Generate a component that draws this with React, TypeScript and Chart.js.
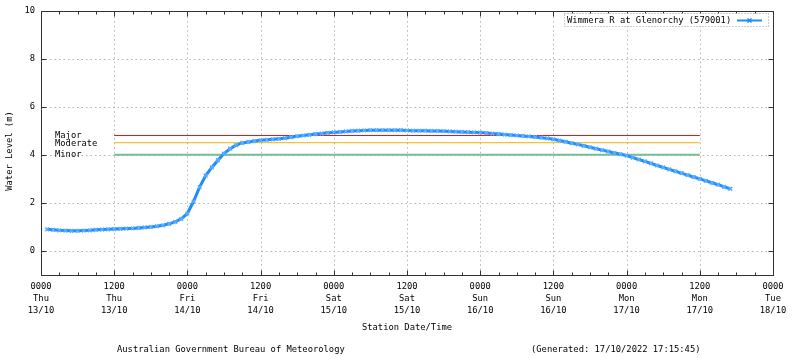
import React, { useEffect, useRef } from "react";
import { Chart, registerables } from "chart.js";

Chart.register(...registerables);

// Hours since 0000 Thu 13/10/2022
const hours = [
  1, 2, 3, 4, 5, 6, 7, 8, 9, 10, 11, 12, 13, 14, 15, 16, 17, 18, 19, 20,
  21, 22, 23, 24, 25, 26, 27, 28, 29, 30, 31, 32, 33, 34, 35, 36, 37, 38, 39, 40,
  41, 42, 43, 44, 45, 46, 47, 48, 49, 50, 51, 52, 53, 54, 55, 56, 57, 58, 59, 60,
  61, 62, 63, 64, 65, 66, 67, 68, 69, 70, 71, 72, 73, 74, 75, 76, 77, 78, 79, 80,
  81, 82, 83, 84, 85, 86, 87, 88, 89, 90, 91, 92, 93, 94, 95, 96, 97, 98, 99, 100,
  101, 102, 103, 104, 105, 106, 107, 108, 109, 110, 111, 112, 113,
];

// Water level (m)
const waterLevel = [
  0.89, 0.87, 0.85, 0.84, 0.83, 0.83, 0.84, 0.85, 0.87, 0.88, 0.89, 0.90, 0.91, 0.92, 0.93, 0.95, 0.97, 0.99, 1.02, 1.06,
  1.12, 1.20, 1.33, 1.55, 2.05, 2.65, 3.13, 3.47, 3.77, 4.05, 4.25, 4.40, 4.49, 4.53, 4.57, 4.60, 4.62, 4.64, 4.66, 4.69,
  4.73, 4.77, 4.80, 4.83, 4.86, 4.88, 4.91, 4.93, 4.95, 4.97, 4.99, 5.00, 5.01, 5.02, 5.02, 5.02, 5.02, 5.02, 5.02, 5.01,
  5.00, 5.00, 5.00, 4.99, 4.99, 4.98, 4.97, 4.96, 4.95, 4.94, 4.93, 4.92, 4.90, 4.88, 4.86, 4.84, 4.82, 4.80, 4.78, 4.76,
  4.74, 4.71, 4.68, 4.64, 4.59, 4.54, 4.48, 4.43, 4.37, 4.31, 4.25, 4.19, 4.13, 4.07, 4.02, 3.96, 3.88, 3.80, 3.72, 3.64,
  3.55, 3.47, 3.39, 3.31, 3.23, 3.15, 3.07, 2.99, 2.91, 2.83, 2.75, 2.66, 2.58,
];

const xTickHours = [0, 12, 24, 36, 48, 60, 72, 84, 96, 108, 120];
const xTickTimes = ["0000", "1200", "0000", "1200", "0000", "1200", "0000", "1200", "0000", "1200", "0000"];
const xTickDays = ["Thu", "Thu", "Fri", "Fri", "Sat", "Sat", "Sun", "Sun", "Mon", "Mon", "Tue"];
const xTickDates = ["13/10", "13/10", "14/10", "14/10", "15/10", "15/10", "16/10", "16/10", "17/10", "17/10", "18/10"];
const xMinorStep = 3;
const yTicks = [0, 2, 4, 6, 8, 10];

const floodNames = ["Major", "Moderate", "Minor"];
const floodLevels = [4.8, 4.5, 4.0];
const floodColors = ["#e01818", "#f2b400", "#74c096"];
const floodWidths = [1, 1, 2];
const floodStartHour = 12;
const floodEndHour = 108;

const seriesName = "Wimmera R at Glenorchy (579001)";
const seriesColor = "#1e8cff";
const footerLeft = "Australian Government Bureau of Meteorology";
const footerRight = "(Generated: 17/10/2022 17:15:45)";
const xTitle = "Station Date/Time";
const yTitle = "Water Level (m)";

const FONT = '8.8px "DejaVu Sans Mono", monospace';

function drawCross(ctx: CanvasRenderingContext2D, cx: number, cy: number, r: number) {
  ctx.beginPath();
  ctx.moveTo(cx - r, cy - r);
  ctx.lineTo(cx + r, cy + r);
  ctx.moveTo(cx - r, cy + r);
  ctx.lineTo(cx + r, cy - r);
  ctx.stroke();
}

const decorPlugin = {
  id: "decor",
  beforeDatasetsDraw(chart: any) {
    const { ctx, chartArea: a, scales } = chart;
    const x = scales.x;
    const y = scales.y;
    ctx.save();
    ctx.strokeStyle = "#b4b4b4";
    ctx.lineWidth = 1;
    ctx.setLineDash([1.5, 3]);
    for (const h of xTickHours) {
      if (h <= 0 || h >= 120) continue;
      const px = Math.round(x.getPixelForValue(h)) + 0.5;
      ctx.beginPath();
      ctx.moveTo(px, a.bottom);
      ctx.lineTo(px, a.top);
      ctx.stroke();
    }
    for (const v of yTicks) {
      if (v >= 10) continue;
      const py = Math.round(y.getPixelForValue(v)) + 0.5;
      ctx.beginPath();
      ctx.moveTo(a.left, py);
      ctx.lineTo(a.right, py);
      ctx.stroke();
    }
    ctx.setLineDash([]);

    // flood labels
    ctx.fillStyle = "#000";
    ctx.font = FONT;
    ctx.textAlign = "left";
    ctx.textBaseline = "middle";
    floodNames.forEach((n, i) => {
      const py = y.getPixelForValue(floodLevels[i]);
      const off = i === 1 ? 1.5 : 0;
      ctx.fillText(n, 55, py + off);
    });
    ctx.restore();
  },
  afterDatasetsDraw(chart: any) {
    const { ctx, chartArea: a, scales } = chart;
    const x = scales.x;
    const y = scales.y;
    ctx.save();
    // border
    ctx.strokeStyle = "#333";
    ctx.lineWidth = 1;
    const L = Math.round(a.left) + 0.5;
    const R = Math.round(a.right) + 0.5;
    const T = Math.round(a.top) + 0.5;
    const B = Math.round(a.bottom) + 0.5;
    ctx.strokeRect(L, T, R - L, B - T);

    // x ticks (inward, mirrored)
    for (let h = 0; h <= 120; h += xMinorStep) {
      const px = Math.round(x.getPixelForValue(h)) + 0.5;
      const len = h % 12 === 0 ? 5 : 3;
      ctx.beginPath();
      ctx.moveTo(px, B);
      ctx.lineTo(px, B - len);
      ctx.moveTo(px, T);
      ctx.lineTo(px, T + len);
      ctx.stroke();
    }
    // y ticks
    for (const v of yTicks) {
      const py = Math.round(y.getPixelForValue(v)) + 0.5;
      ctx.beginPath();
      ctx.moveTo(L, py);
      ctx.lineTo(L + 5, py);
      ctx.moveTo(R, py);
      ctx.lineTo(R - 5, py);
      ctx.stroke();
    }

    ctx.fillStyle = "#000";
    ctx.font = FONT;
    // y tick labels
    ctx.textAlign = "right";
    ctx.textBaseline = "middle";
    for (const v of yTicks) {
      ctx.fillText(String(v), 35, y.getPixelForValue(v));
    }
    // x tick labels
    ctx.textAlign = "center";
    xTickHours.forEach((h, i) => {
      const px = x.getPixelForValue(h);
      ctx.fillText(xTickTimes[i], px, a.bottom + 12);
      ctx.fillText(xTickDays[i], px, a.bottom + 23.8);
      ctx.fillText(xTickDates[i], px, a.bottom + 35.6);
    });
    // axis titles
    ctx.fillText(xTitle, (a.left + a.right) / 2, 328);
    ctx.save();
    ctx.translate(10, 151);
    ctx.rotate(-Math.PI / 2);
    ctx.fillText(yTitle, 0, 0);
    ctx.restore();
    // footer
    ctx.textAlign = "left";
    ctx.fillText(footerLeft, 117, 350);
    ctx.fillText(footerRight, 531, 350);

    // legend
    const bx = 564.5, by = 13.5, bw = 204, bh = 13;
    ctx.fillStyle = "#fff";
    ctx.fillRect(bx, by, bw, bh);
    ctx.strokeStyle = "#999";
    ctx.setLineDash([1, 2]);
    ctx.strokeRect(bx, by, bw, bh);
    ctx.setLineDash([]);
    ctx.fillStyle = "#000";
    ctx.textAlign = "left";
    ctx.fillText(seriesName, 567, 20.5);
    ctx.strokeStyle = seriesColor;
    ctx.lineWidth = 2;
    ctx.beginPath();
    ctx.moveTo(737, 20.5);
    ctx.lineTo(762, 20.5);
    ctx.stroke();
    ctx.lineWidth = 1.5;
    drawCross(ctx, 749.5, 20.5, 2);
    ctx.restore();
  },
};

export default function App() {
  const ref = useRef<HTMLCanvasElement | null>(null);
  useEffect(() => {
    document.body.style.margin = "0";
    const canvas = ref.current;
    if (!canvas) return;
    const floodSets = floodNames.map((n, i) => ({
      label: n,
      data: [
        { x: floodStartHour, y: floodLevels[i] },
        { x: floodEndHour, y: floodLevels[i] },
      ],
      borderColor: floodColors[i],
      borderWidth: floodWidths[i],
      pointRadius: 0,
      fill: false,
      order: 2,
    }));
    const chart = new Chart(canvas, {
      type: "line",
      data: {
        datasets: [
          ...floodSets,
          {
            label: seriesName,
            data: hours.map((h, i) => ({ x: h, y: waterLevel[i] })),
            borderColor: seriesColor,
            borderWidth: 3,
            pointStyle: "crossRot",
            pointRadius: 2.6,
            pointBorderWidth: 1.5,
            pointBorderColor: "#5aaeff",
            pointBackgroundColor: "#5aaeff",
            tension: 0,
            fill: false,
            order: 1,
          },
        ],
      },
      options: {
        responsive: false,
        animation: false,
        layout: { padding: { left: 0, right: 27, top: 10.7, bottom: 0 } },
        plugins: { legend: { display: false }, tooltip: { enabled: false } },
        scales: {
          x: {
            type: "linear",
            min: 0,
            max: 120,
            ticks: { display: false },
            grid: { display: false },
            border: { display: false },
            afterFit: (s: any) => {
              s.height = 83.3;
            },
          },
          y: {
            type: "linear",
            min: -1,
            max: 10,
            ticks: { display: false },
            grid: { display: false },
            border: { display: false },
            afterFit: (s: any) => {
              s.width = 41;
            },
          },
        },
      },
      plugins: [decorPlugin],
    } as any);
    return () => chart.destroy();
  }, []);
  return (
    <div style={{ width: 800, height: 358, background: "#fff" }}>
      <canvas ref={ref} width={800} height={358} style={{ display: "block" }} />
    </div>
  );
}
